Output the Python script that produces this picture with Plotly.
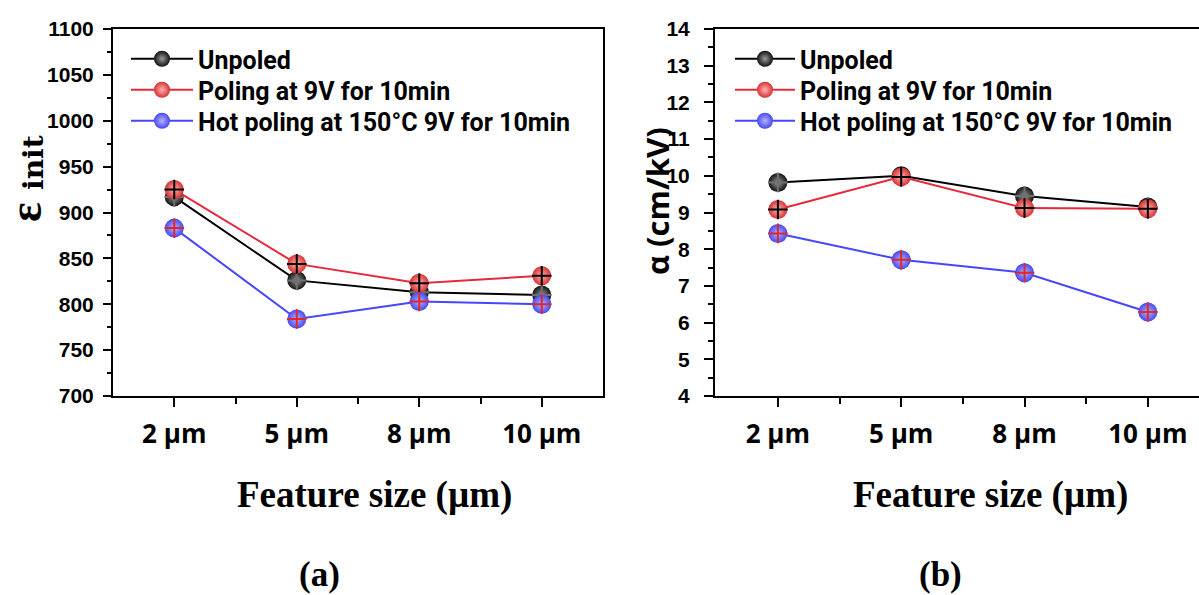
import plotly.graph_objects as go

# Feature sizes along the x axis
features = ["2 µm", "5 µm", "8 µm", "10 µm"]

# (a) initial permittivity
eps_unpoled = [917, 826, 813, 810]
eps_poled = [925, 844, 823, 831]
eps_hot = [883, 784, 803, 800]

# (b) tunability coefficient alpha (cm/kV)
alpha_unpoled = [9.82, 10.0, 9.45, 9.15]
alpha_poled = [9.08, 9.97, 9.12, 9.10]
alpha_hot = [8.43, 7.71, 7.36, 6.29]

series_names = [
    "Unpoled",
    "Poling at 9V for 10min",
    "Hot poling at 150°C 9V for 10min",
]
line_colors = ["#000000", "#e8283c", "#4646ff"]
marker_colors = ["#111111", "#d83232", "#4848f2"]
glow_colors = ["#9a9a9a", "#ffb4b4", "#b4b4ff"]
cross_colors = ["#707070", "#000000", "#e02828"]

W, H = 1199, 595


def px(x):
    return x / W


def py(y):
    return 1 - y / H


idx = list(range(len(features)))
half_steps = [i + 0.5 for i in idx[:-1]]

# one legend per series so each row sits exactly where it belongs
legend_rows = {
    "left": dict(x=126, itemwidth=62, rows=[59, 90, 121]),
    "right": dict(x=730, itemwidth=60, rows=[59, 90, 121]),
}

fig = go.Figure()

panels = [
    ("x", "y", "left", [eps_unpoled, eps_poled, eps_hot]),
    ("x2", "y2", "right", [alpha_unpoled, alpha_poled, alpha_hot]),
]

legend_font = dict(family="Roboto", size=25, color="black", weight="bold")
legend_layouts = {}
n = 0
for xa, ya, side, values in panels:
    spec = legend_rows[side]
    for k, vals in enumerate(values):
        n += 1
        lname = "legend" if n == 1 else f"legend{n}"
        legend_layouts[lname] = dict(
            x=px(spec["x"]), y=py(spec["rows"][k]),
            xanchor="left", yanchor="middle",
            bgcolor="rgba(0,0,0,0)", itemwidth=spec["itemwidth"],
            font=legend_font,
        )
        fig.add_trace(go.Scatter(
            x=idx, y=vals, xaxis=xa, yaxis=ya, legend=lname,
            name=series_names[k], mode="lines+markers",
            line=dict(color=line_colors[k], width=2),
            marker=dict(size=19, color=marker_colors[k],
                        gradient=dict(type="radial", color=glow_colors[k]),
                        line=dict(width=0)),
            hoverinfo="skip",
        ))
        fig.add_trace(go.Scatter(
            x=idx, y=vals, xaxis=xa, yaxis=ya, mode="markers",
            showlegend=False, hoverinfo="skip",
            marker=dict(symbol="cross-thin", size=14,
                        line=dict(width=2, color=cross_colors[k])),
        ))

axis_common = dict(
    showline=True, linecolor="black", linewidth=2,
    ticks="outside", tickcolor="black", tickwidth=1.5,
    showgrid=False, zeroline=False, automargin=False,
)
xtick_font = dict(family="Open Sans", size=26, color="black", weight="bold")
ytick_font = dict(family="Liberation Sans", size=21, color="black", weight="bold")

xcommon = dict(
    axis_common, tickmode="array", tickvals=idx, ticktext=features,
    ticklen=9, tickfont=xtick_font, ticklabelstandoff=5,
    minor=dict(tickmode="array", tickvals=half_steps, ticks="outside",
               ticklen=6, tickwidth=1.5, tickcolor="black"),
)

fig.update_layout(
    width=W, height=H,
    margin=dict(l=0, r=0, t=0, b=0, autoexpand=False),
    paper_bgcolor="white", plot_bgcolor="white",
    showlegend=True,
    xaxis=dict(xcommon, domain=[px(113), px(603)], range=[-0.5, 3.5],
               anchor="y", mirror=True),
    yaxis=dict(axis_common, domain=[py(396), py(29)], range=[700, 1100],
               tick0=700, dtick=50, ticklen=8, tickfont=ytick_font,
               ticklabelstandoff=5, anchor="x", mirror=True,
               minor=dict(dtick=25, ticks="outside", ticklen=4,
                          tickwidth=1.5, tickcolor="black")),
    xaxis2=dict(xcommon, domain=[px(715), 1.0], range=[-0.51, 3.415],
                anchor="y2", mirror=True),
    yaxis2=dict(axis_common, domain=[py(396), py(29)], range=[4, 14],
                tick0=4, dtick=1, ticklen=9, tickfont=ytick_font,
                ticklabelstandoff=10, anchor="x2", mirror=False,
                minor=dict(dtick=0.5, ticks="outside", ticklen=5,
                           tickwidth=1.5, tickcolor="black")),
    **legend_layouts,
)

title_font = dict(family="Liberation Serif", size=37, color="black", weight="bold")
label_font = dict(family="Liberation Serif", size=35, color="black", weight="bold")
annotations = [
    dict(x=px(374), y=py(495), text="Feature size (µm)", font=title_font),
    dict(x=px(990), y=py(495), text="Feature size (µm)", font=title_font),
    dict(x=px(319), y=py(574), text="(a)", font=label_font),
    dict(x=px(940), y=py(574), text="(b)", font=label_font),
    dict(x=px(25), y=py(212), text="ε", textangle=-90,
         font=dict(family="Liberation Serif", size=46, color="black", weight="bold")),
    dict(x=px(33), y=py(163), text="init", textangle=-90,
         font=dict(family="DejaVu Serif", size=28, color="black", weight="bold")),
    dict(x=px(657), y=py(201), text="α (cm/kV)", textangle=-90,
         font=dict(family="Open Sans", size=31, color="black", weight="bold")),
]
for a in annotations:
    a.update(xref="paper", yref="paper", showarrow=False,
             xanchor="center", yanchor="middle")
fig.update_layout(annotations=annotations)

fig.write_html("out.html")
